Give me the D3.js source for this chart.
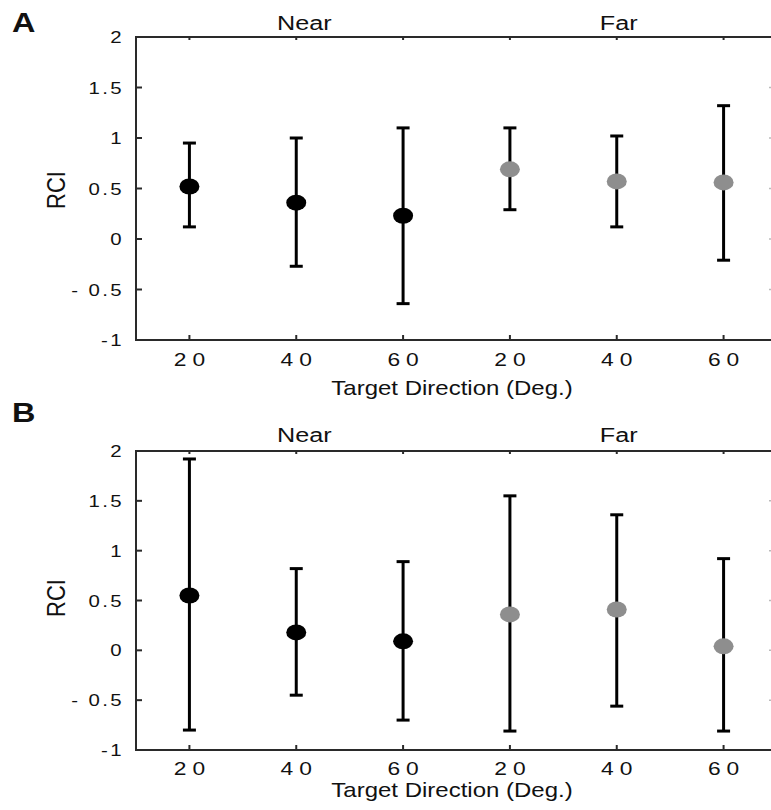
<!DOCTYPE html>
<html>
<head>
<meta charset="utf-8">
<script src="https://cdn.jsdelivr.net/npm/d3@7"></script>
<style>
  html, body { margin: 0; padding: 0; background: #fff; }
  svg { display: block; }
  text { font-family: "Liberation Sans", Arial, sans-serif; fill: #111; }
</style>
</head>
<body>
<script>
// Target directions (deg.) and their viewing-distance condition
const categories = ["20", "40", "60", "20", "40", "60"];
const conditions = ["Near", "Near", "Near", "Far", "Far", "Far"];
const yTickValues = [-1, -0.5, 0, 0.5, 1, 1.5, 2];
const yTickLabels = ["-1", "- 0.5", "0", "0.5", "1", "1.5", "2"];

// Panel A: mean RCI with error-bar limits
const meanA  = [0.52, 0.36, 0.23, 0.69, 0.57, 0.56];
const upperA = [0.95, 1.00, 1.10, 1.10, 1.02, 1.32];
const lowerA = [0.12, -0.27, -0.64, 0.29, 0.12, -0.21];

// Panel B: mean RCI with error-bar limits
const meanB  = [0.55, 0.18, 0.09, 0.36, 0.41, 0.04];
const upperB = [1.92, 0.82, 0.89, 1.55, 1.36, 0.92];
const lowerB = [-0.80, -0.45, -0.70, -0.81, -0.56, -0.81];

const W = 771, H = 810;
const SX = 1.2; // horizontal stretch applied to all text

const svg = d3.select("body").append("svg")
  .attr("width", W).attr("height", H);

const x = d3.scaleLinear().domain([-0.5, 5.5]).range([136, 777]);

function stretchedText(g, tx, ty, str, opts) {
  const t = g.append("text")
    .attr("transform", `translate(${tx},${ty}) scale(${SX},1)` + (opts.rotate ? ` rotate(${opts.rotate})` : ""))
    .attr("text-anchor", opts.anchor || "middle")
    .attr("font-size", opts.size)
    .text(str);
  if (opts.weight) t.attr("font-weight", opts.weight);
  if (opts.spacing) t.attr("letter-spacing", opts.spacing);
  return t;
}

function panel(cfg) {
  const { top, bottom, mean, upper, lower, letter, letterY, condY, tickY, titleY, rciY } = cfg;
  const g = svg.append("g");
  const y = d3.scaleLinear().domain([-1, 2]).range([bottom, top]);
  const left = x.range()[0], right = x.range()[1];
  const axisColor = "#2a2a2a";

  // frame lines
  g.append("line").attr("x1", left).attr("x2", right).attr("y1", top).attr("y2", top)
    .attr("stroke", axisColor).attr("stroke-width", 2);
  g.append("line").attr("x1", left).attr("x2", right).attr("y1", bottom).attr("y2", bottom)
    .attr("stroke", axisColor).attr("stroke-width", 2);
  g.append("line").attr("x1", left).attr("x2", left).attr("y1", top - 1).attr("y2", bottom + 1)
    .attr("stroke", axisColor).attr("stroke-width", 2);

  // left ticks (inward)
  g.selectAll(".ytick").data(yTickValues).join("line")
    .attr("x1", left).attr("x2", left + 6)
    .attr("y1", d => y(d)).attr("y2", d => y(d))
    .attr("stroke", axisColor).attr("stroke-width", 2);
  // right-side ticks (inward, axis line lies past the edge)
  g.selectAll(".rtick").data(yTickValues.slice(1, -1)).join("line")
    .attr("x1", 769).attr("x2", 777)
    .attr("y1", d => y(d)).attr("y2", d => y(d))
    .attr("stroke", "#bbb").attr("stroke-width", 1.5);

  // bottom and top ticks at each category
  const idx = d3.range(categories.length);
  g.selectAll(".btick").data(idx).join("line")
    .attr("x1", i => x(i)).attr("x2", i => x(i))
    .attr("y1", bottom).attr("y2", bottom - 5)
    .attr("stroke", axisColor).attr("stroke-width", 2);
  g.selectAll(".ttick").data(idx).join("line")
    .attr("x1", i => x(i)).attr("x2", i => x(i))
    .attr("y1", top).attr("y2", top + 3)
    .attr("stroke", axisColor).attr("stroke-width", 2);

  // y tick labels
  yTickValues.forEach((v, i) => {
    stretchedText(g, 124, y(v) + 6, yTickLabels[i], { anchor: "end", size: 17, spacing: 2 });
  });
  // x tick labels
  idx.forEach(i => {
    stretchedText(g, x(i) + 3, tickY, categories[i], { size: 19, spacing: 5 });
  });

  // error bars
  const capHalf = 6.5;
  idx.forEach(i => {
    const cx = x(i);
    g.append("line").attr("x1", cx).attr("x2", cx)
      .attr("y1", y(upper[i])).attr("y2", y(lower[i]))
      .attr("stroke", "#000").attr("stroke-width", 3);
    [upper[i], lower[i]].forEach(v => {
      g.append("line").attr("x1", cx - capHalf).attr("x2", cx + capHalf)
        .attr("y1", y(v)).attr("y2", y(v))
        .attr("stroke", "#000").attr("stroke-width", 3);
    });
  });
  // mean markers
  g.selectAll(".pt").data(idx).join("ellipse")
    .attr("cx", i => x(i)).attr("cy", i => y(mean[i]))
    .attr("rx", 10).attr("ry", 8)
    .attr("fill", i => conditions[i] === "Near" ? "#000" : "#8e8e8e");

  // condition labels
  stretchedText(g, x(1) + 8, condY, "Near", { size: 21 });
  stretchedText(g, x(4) + 2, condY, "Far", { size: 21 });

  // axis titles
  stretchedText(g, 452, titleY, "Target Direction (Deg.)", { size: 20 });
  stretchedText(g, 65, rciY, "RCI", { size: 22, rotate: -90 });

  // panel letter
  stretchedText(g, 12, letterY, letter, { anchor: "start", size: 27, weight: "bold" });
}

panel({ top: 37, bottom: 340, mean: meanA, upper: upperA, lower: lowerA,
        letter: "A", letterY: 32, condY: 30, tickY: 366, titleY: 395, rciY: 190 });
panel({ top: 451, bottom: 750, mean: meanB, upper: upperB, lower: lowerB,
        letter: "B", letterY: 422, condY: 442, tickY: 775, titleY: 797, rciY: 598 });
</script>
</body>
</html>
